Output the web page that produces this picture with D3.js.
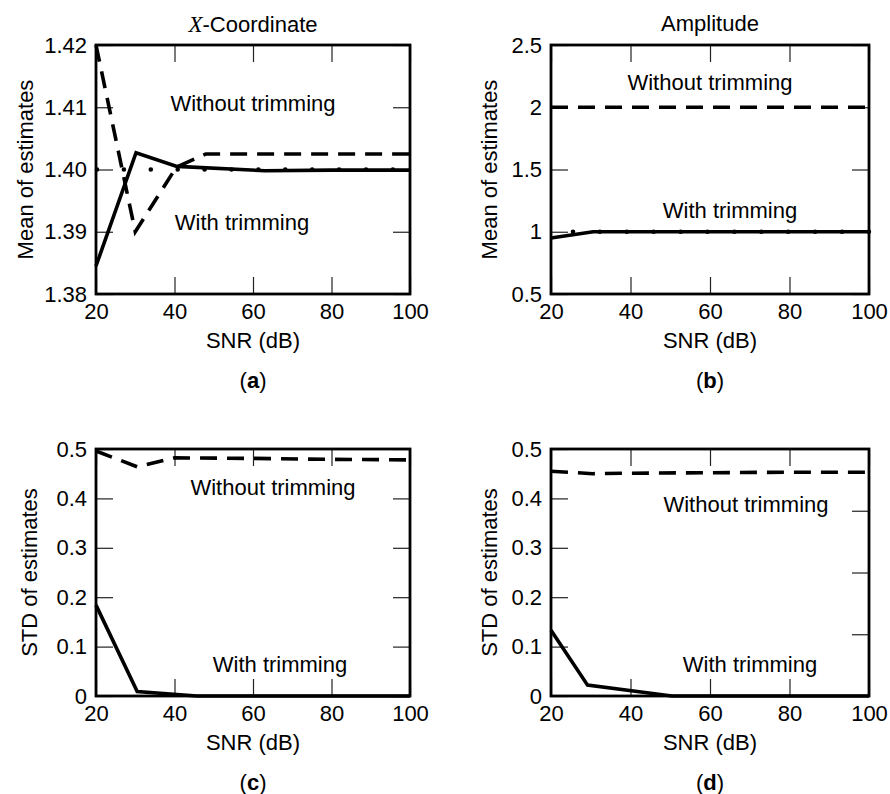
<!DOCTYPE html>
<html><head><meta charset="utf-8">
<script src="https://cdn.jsdelivr.net/npm/d3@7"></script>
<style>
body{margin:0;background:#fff}
text{font-family:"Liberation Sans",Arial,Helvetica,sans-serif;fill:#000}
</style>
</head><body>
<svg id="chart" width="890" height="794"></svg>
<script>
// ---------- data ----------
const snrTicks = [20, 40, 60, 80, 100];

// (a) X-Coordinate, mean of estimates
const aWithoutSNR = [20, 30, 40.5, 48, 60, 80, 100];
const aWithoutVal = [1.42, 1.39, 1.4004, 1.4025, 1.4025, 1.4025, 1.4025];
const aWithSNR = [20, 30.2, 40.6, 63, 80, 100];
const aWithVal = [1.3845, 1.4027, 1.4005, 1.3998, 1.3999, 1.3999];
const aTrueVal = 1.40;
const aYTicks = [1.38, 1.39, 1.40, 1.41, 1.42];

// (b) Amplitude, mean of estimates
const bWithoutSNR = [20, 30, 40, 60, 80, 100];
const bWithoutVal = [2.0, 2.0, 2.0, 2.0, 2.0, 2.0];
const bWithSNR = [20, 30.6, 40, 60, 80, 100];
const bWithVal = [0.95, 1.0, 1.0, 1.0, 1.0, 1.0];
const bTrueVal = 1.0;
const bYTicks = [0.5, 1, 1.5, 2, 2.5];

// (c) X-Coordinate, STD of estimates
const cWithoutSNR = [20, 30.5, 40, 60, 80, 100];
const cWithoutVal = [0.496, 0.464, 0.482, 0.481, 0.479, 0.478];
const cWithSNR = [20, 30.5, 45.7, 60, 80, 100];
const cWithVal = [0.184, 0.009, 0, 0, 0, 0];
const cYTicks = [0, 0.1, 0.2, 0.3, 0.4, 0.5];

// (d) Amplitude, STD of estimates
const dWithoutSNR = [20, 30.5, 40, 60, 80, 100];
const dWithoutVal = [0.455, 0.450, 0.451, 0.452, 0.453, 0.453];
const dWithSNR = [20, 29.2, 50.4, 60, 80, 100];
const dWithVal = [0.133, 0.022, 0, 0, 0, 0];
const dYTicks = [0, 0.1, 0.2, 0.3, 0.4, 0.5];
const dRightTickParts = [1, 2, 3]; // right frame ticks split the frame in 4

const zip = (xs, ys) => xs.map((x, i) => ({x, y: ys[i]}));

// ---------- layout ----------
const panels = [
  {id:"a", L:96, R:410, T:45, B:294, ydom:[1.38,1.42], yticks:aYTicks, fmt:d3.format(".2f"),
   ylabel:"Mean of estimates", ylabX:33, title:"X", 
   without:zip(aWithoutSNR,aWithoutVal), withT:zip(aWithSNR,aWithVal), trueVal:aTrueVal, dotOff:-1,
   tWithout:{x:253,y:111}, tWith:{x:242,y:230}},
  {id:"b", L:551, R:869, T:45, B:294, ydom:[0.5,2.5], yticks:bYTicks, fmt:d3.format("~g"),
   ylabel:"Mean of estimates", ylabX:497, title:"Amplitude",
   without:zip(bWithoutSNR,bWithoutVal), withT:zip(bWithSNR,bWithVal), trueVal:bTrueVal, dotOff:4.9,
   tWithout:{x:710,y:90}, tWith:{x:730,y:218}},
  {id:"c", L:96, R:410, T:449, B:696, ydom:[0,0.5], yticks:cYTicks, fmt:d3.format("~g"),
   ylabel:"STD of estimates", ylabX:37,
   without:zip(cWithoutSNR,cWithoutVal), withT:zip(cWithSNR,cWithVal),
   tWithout:{x:273,y:495}, tWith:{x:280,y:672}},
  {id:"d", L:551, R:869, T:449, B:696, ydom:[0,0.5], yticks:dYTicks, fmt:d3.format("~g"),
   ylabel:"STD of estimates", ylabX:497, rightParts:dRightTickParts,
   without:zip(dWithoutSNR,dWithoutVal), withT:zip(dWithSNR,dWithVal),
   tWithout:{x:746,y:512}, tWith:{x:750,y:672}}
];

const svg = d3.select("#chart");
const FS = 22;
const TICK = 17;

panels.forEach(p => {
  const x = d3.scaleLinear().domain([20,100]).range([p.L, p.R]);
  const y = d3.scaleLinear().domain(p.ydom).range([p.B, p.T]);
  const g = svg.append("g");
  const cx = (p.L + p.R) / 2;

  const styleAxis = sel => {
    sel.select(".domain").remove();
    sel.selectAll(".tick line").attr("stroke","#222").attr("stroke-width",1.2);
    sel.selectAll(".tick text").style("font-size", FS+"px").attr("fill","#000");
  };
  g.append("g").attr("transform",`translate(${p.L},0)`)
    .call(d3.axisLeft(y).tickValues(p.yticks).tickFormat(p.fmt).tickSize(-TICK).tickPadding(9))
    .call(styleAxis);
  g.append("g").attr("transform",`translate(0,${p.B})`)
    .call(d3.axisBottom(x).tickValues(snrTicks).tickFormat(d3.format("d")).tickSize(-TICK).tickPadding(9))
    .call(styleAxis);
  g.append("g").attr("transform",`translate(0,${p.T})`)
    .call(d3.axisTop(x).tickValues(snrTicks).tickFormat("").tickSize(-TICK))
    .call(styleAxis);
  if (p.rightParts) {
    const yr = d3.scaleLinear().domain([0,4]).range([p.B, p.T]);
    g.append("g").attr("transform",`translate(${p.R},0)`)
      .call(d3.axisRight(yr).tickValues(p.rightParts).tickFormat("").tickSize(-TICK))
      .call(styleAxis);
  } else {
    g.append("g").attr("transform",`translate(${p.R},0)`)
      .call(d3.axisRight(y).tickValues(p.yticks).tickFormat("").tickSize(-TICK))
      .call(styleAxis);
  }

  const line = d3.line().x(d => x(d.x)).y(d => y(d.y));

  if (p.trueVal !== undefined) {
    g.append("path").datum([{x:20,y:p.trueVal},{x:100,y:p.trueVal}])
      .attr("d", line).attr("fill","none").attr("stroke","#000")
      .attr("stroke-width",4.6).attr("stroke-linecap","round")
      .attr("stroke-dasharray","0 26.9").attr("stroke-dashoffset", p.dotOff);
  }
  g.append("path").datum(p.without).attr("d", line)
    .attr("fill","none").attr("stroke","#000").attr("stroke-width",3.6)
    .attr("stroke-dasharray","17 10");
  g.append("path").datum(p.withT).attr("d", line)
    .attr("fill","none").attr("stroke","#000").attr("stroke-width",3.6)
    .attr("stroke-linejoin","miter");

  g.append("rect").attr("x",p.L).attr("y",p.T).attr("width",p.R-p.L).attr("height",p.B-p.T)
    .attr("fill","none").attr("stroke","#000").attr("stroke-width",2.8);

  g.append("text").attr("x",p.tWithout.x).attr("y",p.tWithout.y).attr("text-anchor","middle")
    .style("font-size",FS+"px").text("Without trimming");
  g.append("text").attr("x",p.tWith.x).attr("y",p.tWith.y).attr("text-anchor","middle")
    .style("font-size",FS+"px").text("With trimming");

  g.append("text").attr("x",cx).attr("y",p.B+54).attr("text-anchor","middle")
    .style("font-size",FS+"px").text("SNR (dB)");
  g.append("text").attr("transform",`translate(${p.ylabX},${(p.T+p.B)/2}) rotate(-90)`)
    .attr("text-anchor","middle").style("font-size",FS+"px").text(p.ylabel);

  const pl = g.append("text").attr("x",cx).attr("y",p.B+94).attr("text-anchor","middle")
    .style("font-size",FS+"px");
  pl.append("tspan").text("(");
  pl.append("tspan").attr("font-weight","bold").text(p.id);
  pl.append("tspan").text(")");

  if (p.title === "X") {
    const t = g.append("text").attr("x",cx).attr("y",32).attr("text-anchor","middle").style("font-size",FS+"px");
    t.append("tspan").style("font-family","'Liberation Serif','DejaVu Serif',serif").style("font-style","italic").style("font-size","23px").text("X");
    t.append("tspan").text("-Coordinate");
  } else if (p.title) {
    g.append("text").attr("x",cx).attr("y",31).attr("text-anchor","middle").style("font-size",FS+"px").text(p.title);
  }
});
</script>
</body></html>
